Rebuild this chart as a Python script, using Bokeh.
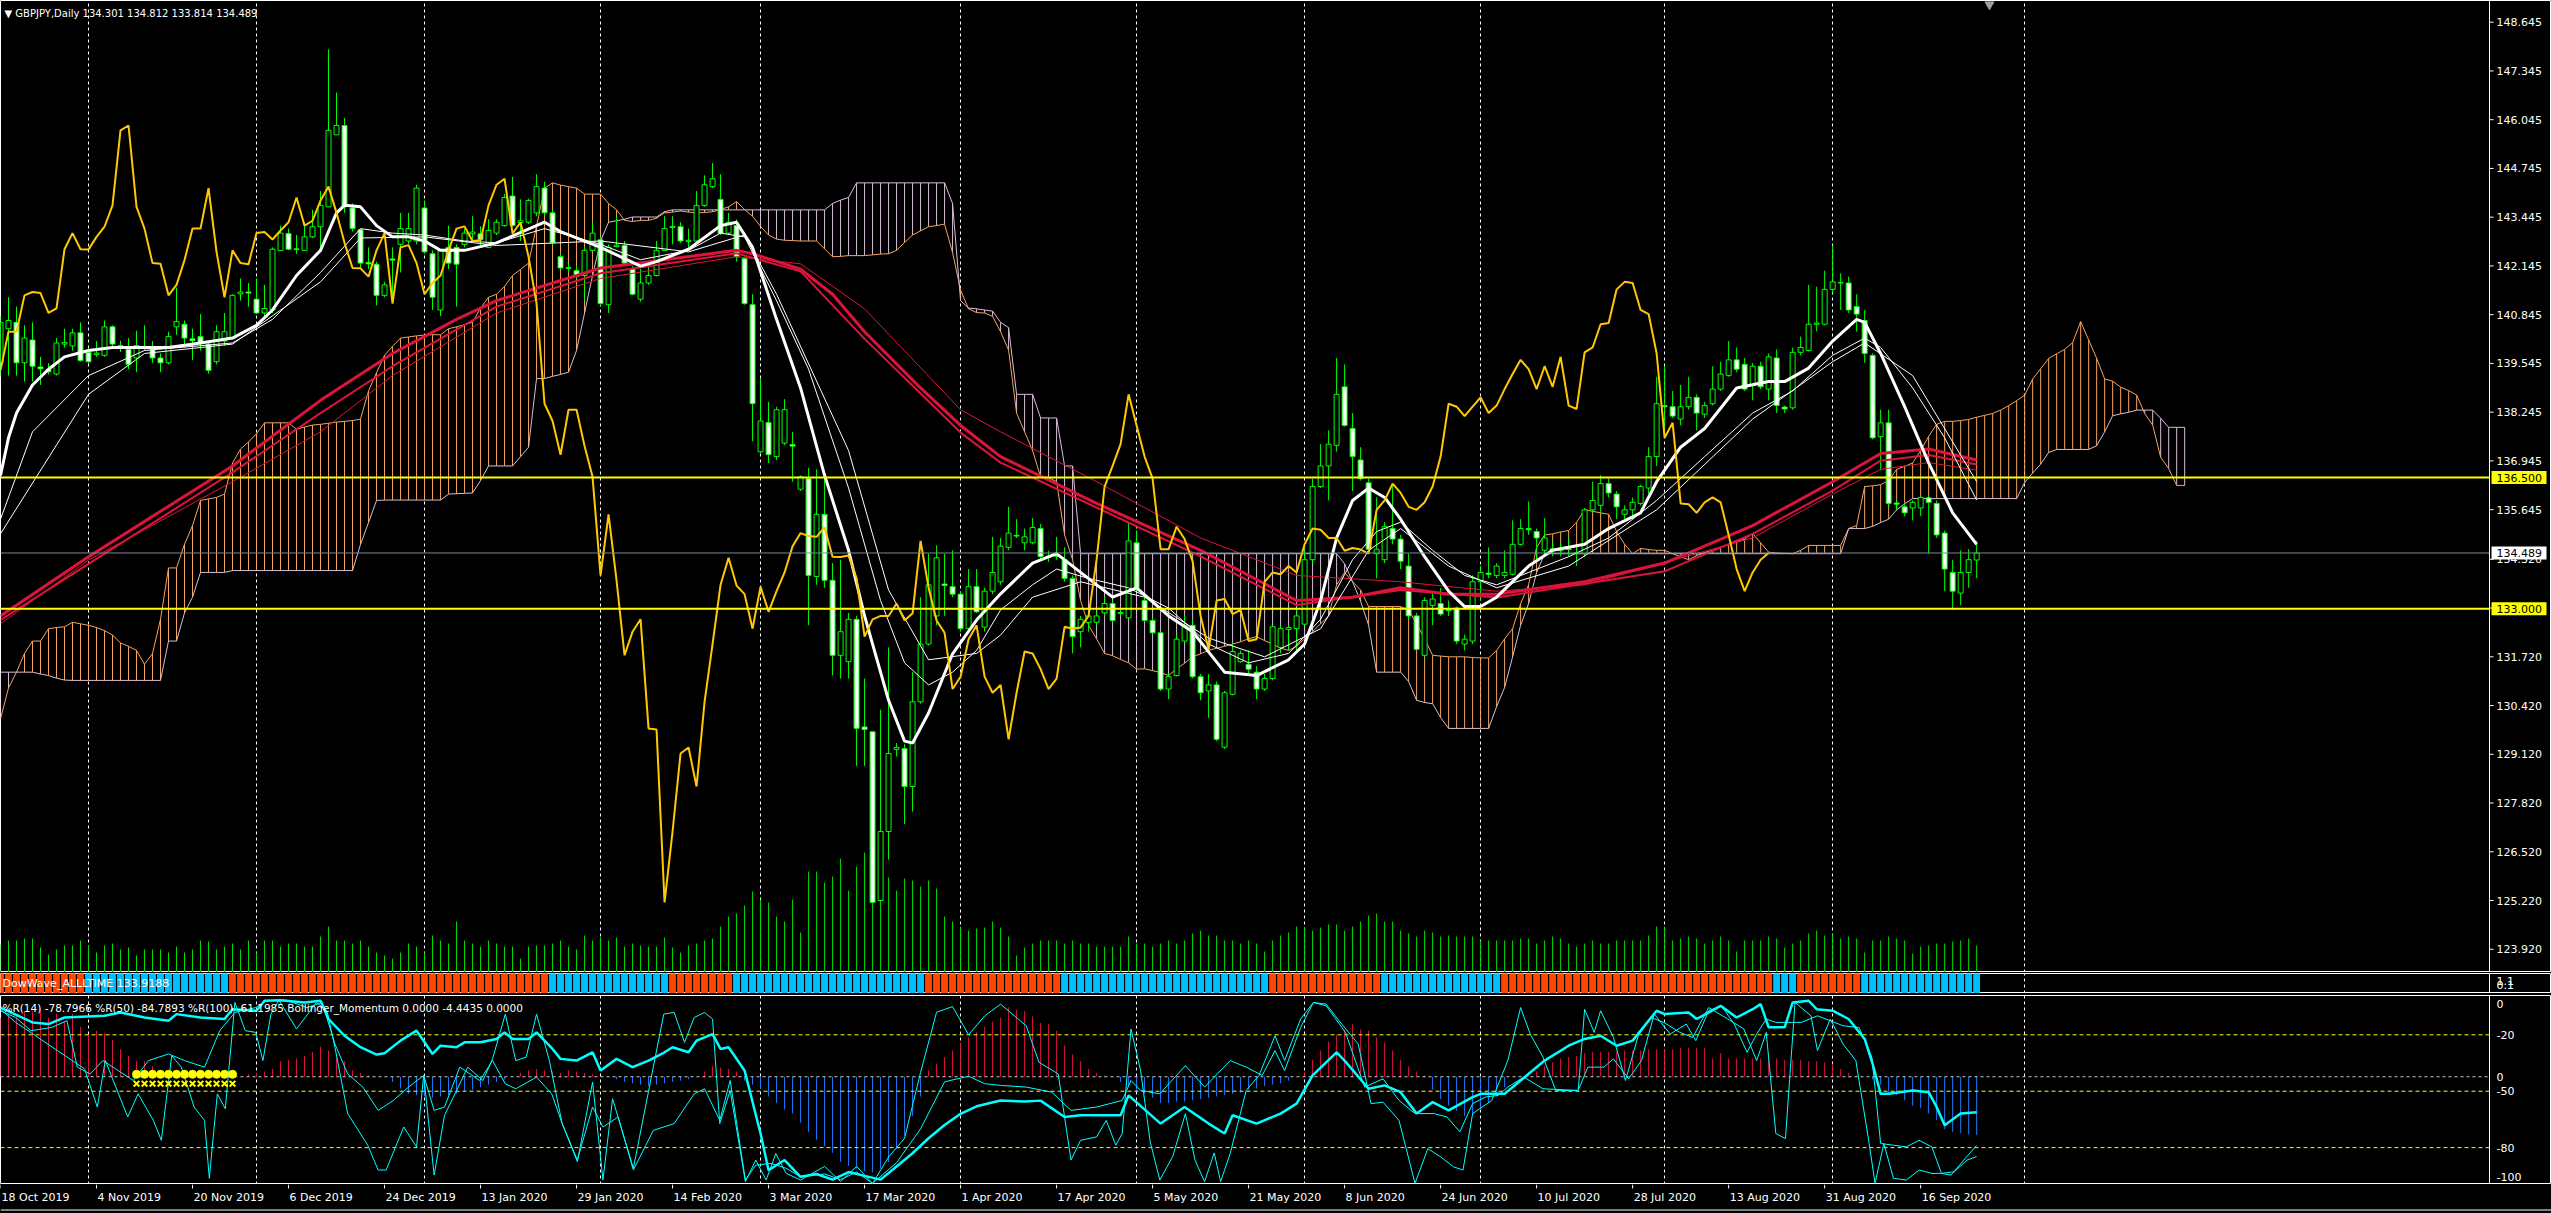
import numpy as np
from bokeh.plotting import figure
from bokeh.models import Range1d, FixedTicker, Label, ColumnDataSource, Span
from bokeh.layouts import column
from bokeh.embed import file_html
from bokeh.resources import INLINE

# ---------------- DATA ----------------
SYMBOL = "GBPJPY,Daily"
# daily bars (open, high, low, close), bar 0 = 18 Oct 2019
OHLC = [
(139.56,140.81,139.22,140.64),(140.47,141.31,139.22,140.69),(140.64,141.06,139.22,139.56),(139.56,140.56,139.06,140.22),
(140.17,140.64,139.06,139.47),(139.45,139.72,138.97,139.40),(139.38,139.55,139.25,139.32),(139.26,140.22,139.22,140.09),
(140.06,140.47,139.97,140.10),(140.01,140.47,139.89,140.36),(140.36,140.64,139.59,139.62),(139.84,139.95,139.55,139.59),
(139.78,140.14,139.72,139.82),(139.76,140.69,139.72,140.52),(140.52,140.56,139.97,140.06),(140.02,140.15,139.85,139.97),
(139.92,140.22,139.39,139.52),(139.69,140.42,139.31,140.02),(139.98,140.56,139.89,140.00),(139.92,140.14,139.56,139.69),
(139.69,139.81,139.31,139.56),(139.56,140.39,139.52,140.26),(140.52,141.56,140.31,140.66),(140.59,140.69,139.97,140.22),
(140.20,140.47,139.64,140.15),(140.26,140.86,139.89,140.09),(140.06,140.14,139.27,139.36),(139.59,140.56,139.52,140.39),
(140.14,140.89,140.02,140.39),(140.22,141.39,140.19,141.36),(141.40,141.81,141.22,141.45),(141.45,141.69,141.06,141.42),
(141.26,141.81,140.86,140.89),(140.89,141.64,140.81,141.01),(140.97,142.64,140.89,142.59),(142.56,143.22,142.56,143.02),
(143.01,143.14,142.56,142.59),(142.60,142.97,142.47,142.58),(142.56,143.31,142.56,142.92),(142.92,143.64,142.89,143.19),
(143.19,144.14,142.64,143.76),(143.72,147.92,143.72,145.76),(145.64,146.77,145.64,145.89),(145.89,146.09,143.56,143.72),
(143.69,143.81,143.06,143.14),(143.11,143.14,142.06,142.22),(142.24,142.64,142.06,142.20),(142.19,142.26,141.09,141.36),
(141.36,141.72,141.31,141.64),(142.33,142.64,141.17,142.30),(142.72,143.56,141.97,143.14),(142.81,143.56,142.72,143.14),
(142.81,144.31,142.72,144.22),(143.69,143.89,142.47,142.52),(142.47,142.56,140.97,141.31),(140.97,142.56,140.81,142.56),
(142.64,143.22,142.06,142.22),(142.64,142.72,141.06,142.19),(142.72,143.14,142.64,143.02),(143.00,143.47,142.81,143.05),
(143.00,143.20,142.70,142.85),(142.64,143.39,142.64,143.09),(143.02,143.39,142.97,143.31),(143.22,144.06,143.19,143.97),
(144.01,144.52,143.19,143.22),(143.30,143.92,142.81,143.35),(143.31,143.94,143.26,143.89),(143.56,144.59,143.47,144.26),
(144.22,144.39,143.47,143.56),(143.56,143.64,142.69,142.76),(142.39,142.47,142.06,142.09),(142.10,142.20,141.98,142.08),
(142.02,142.14,141.81,141.86),(141.89,142.64,141.22,142.56),(142.56,143.31,142.52,143.02),(142.84,142.89,141.06,141.14),
(141.11,142.72,140.89,142.64),(142.66,143.47,142.64,142.70),(142.69,142.81,142.14,142.22),(142.06,142.14,141.36,141.39),
(141.26,142.06,141.19,141.69),(141.69,142.22,141.64,141.89),(141.89,142.81,141.86,142.56),(142.56,143.47,142.56,143.14),
(143.17,143.47,142.72,143.20),(143.19,143.31,142.76,142.81),(142.80,143.14,142.64,142.83),(142.81,144.14,142.72,143.76),
(143.76,144.56,143.72,144.31),(144.26,144.89,144.22,144.47),(143.92,144.59,142.97,143.01),(143.02,143.56,142.97,143.31),
(143.22,143.39,142.26,142.39),(142.34,142.39,141.11,141.14),(141.11,141.39,137.47,138.47),(137.19,139.14,137.14,138.01),
(137.97,138.52,136.89,137.11),(137.06,138.39,136.97,138.31),(137.42,138.59,137.36,138.31),(137.38,137.72,136.39,137.34),
(136.19,136.56,136.14,136.52),(136.47,136.76,132.56,133.89),(133.86,136.72,133.64,135.52),(135.52,136.56,133.56,133.76),
(133.76,134.22,131.22,131.76),(131.76,134.31,131.14,132.39),(131.59,132.89,131.14,132.72),(132.72,132.81,128.81,129.81),
(129.85,131.14,128.81,129.78),(129.72,129.72,125.14,125.17),(125.22,130.31,125.22,127.06),(127.06,131.97,126.31,129.14),
(129.25,129.42,129.06,129.30),(129.27,129.39,127.26,128.26),(128.26,131.31,127.59,130.52),(130.52,133.31,130.47,132.06),
(132.06,134.47,132.02,133.64),(132.81,134.69,132.56,134.36),(133.66,134.47,132.81,133.62),(133.59,134.56,133.31,133.39),
(133.39,133.47,132.39,132.47),(132.47,134.06,132.42,133.59),(133.59,134.06,132.89,132.92),(132.51,133.56,132.39,133.47),
(133.47,134.92,133.39,133.97),(133.72,134.89,133.64,134.67),(134.64,135.72,134.56,135.02),(134.96,135.39,134.89,134.94),
(134.76,135.14,134.56,134.92),(134.76,135.42,134.72,135.17),(135.14,135.26,134.31,134.39),(134.40,134.55,134.25,134.38),
(134.40,134.92,134.31,134.42),(134.31,134.64,133.72,133.81),(133.81,133.89,131.81,132.26),(132.39,132.81,131.97,132.72),
(132.64,132.92,132.39,132.81),(132.64,132.95,132.55,132.81),(132.89,133.30,132.80,133.14),(133.14,133.22,132.64,132.69),
(132.90,133.05,132.80,132.88),(132.76,135.31,132.72,134.81),(134.76,135.09,133.47,133.56),(133.22,133.31,132.64,132.69),
(132.69,132.76,132.31,132.36),(132.36,132.39,130.81,130.86),(130.86,131.26,130.59,131.19),(131.22,132.31,131.19,132.19),
(132.14,132.81,132.09,132.56),(132.56,132.72,131.14,131.19),(131.19,131.26,130.56,130.76),(130.81,131.26,130.09,130.97),
(130.97,131.06,129.47,129.52),(129.31,130.81,129.26,130.76),(130.72,132.09,130.69,131.86),(131.59,131.89,131.56,131.81),
(131.52,131.89,131.22,131.39),(131.31,131.47,130.59,130.86),(130.86,131.26,130.81,131.14),(131.14,132.56,131.09,132.52),
(131.97,132.56,131.81,132.47),(132.45,132.56,131.89,132.50),(132.47,132.97,131.89,132.81),(132.59,134.72,132.56,134.31),
(134.31,136.47,134.22,136.26),(136.26,137.39,136.22,136.81),(136.81,137.76,135.89,137.39),(137.36,139.69,137.19,138.72),
(138.92,139.52,137.86,137.89),(137.81,138.22,136.14,137.06),(136.97,137.31,136.42,136.47),(136.36,136.47,134.47,134.59),
(134.47,135.97,133.81,134.59),(134.31,135.31,134.22,135.19),(135.14,136.31,134.72,134.86),(134.86,134.97,134.06,134.27),
(134.14,134.47,132.72,132.81),(132.81,132.89,131.89,131.92),(131.76,133.31,131.72,133.22),(133.09,133.47,132.56,133.26),
(133.14,133.56,132.81,132.86),(132.95,133.22,132.81,132.97),(133.02,133.06,132.06,132.14),(132.06,132.31,131.89,132.19),
(132.14,133.89,132.06,133.72),(133.72,134.14,133.22,133.97),(133.95,134.64,133.81,133.92),(133.89,134.22,133.81,134.14),
(133.89,134.56,133.81,133.97),(133.92,135.36,133.89,134.72),(134.72,135.39,134.69,135.14),(135.14,135.86,134.97,135.11),
(135.06,135.14,134.31,134.89),(134.56,135.42,134.47,134.89),(134.60,134.80,134.40,134.55),(134.55,134.75,134.40,134.62),
(134.60,134.90,134.40,134.58),(134.50,134.64,134.14,134.47),(134.47,135.69,134.39,135.64),(135.64,136.39,135.56,135.89),
(135.76,136.56,135.56,136.34),(136.34,136.47,135.97,136.09),(136.06,136.14,135.39,135.72),(135.52,135.76,135.39,135.64),
(135.64,135.97,135.39,135.84),(135.81,136.31,135.76,136.26),(136.22,137.31,136.06,137.06),(137.06,139.19,136.81,138.47),
(138.42,139.47,137.56,138.39),(138.39,138.81,138.09,138.14),(138.06,138.97,137.89,138.39),(138.39,139.19,138.31,138.64),
(138.64,138.72,137.76,138.22),(138.19,138.52,138.09,138.42),(138.47,139.47,138.42,138.86),(138.86,139.59,138.81,139.26),
(139.22,140.14,139.19,139.64),(139.64,139.97,139.31,139.39),(139.52,139.69,138.81,138.86),(138.97,139.56,138.56,139.47),
(139.47,139.59,138.86,138.92),(138.86,139.81,138.56,139.72),(139.69,139.92,138.22,138.42),(138.38,138.42,138.22,138.33),
(138.36,139.97,138.31,139.84),(139.84,140.26,139.76,139.97),(139.89,141.64,139.86,140.59),(140.59,141.59,140.40,140.62),
(140.59,142.02,140.56,141.52),(141.52,142.69,141.42,141.72),(141.70,141.95,140.97,141.69),(141.69,141.86,140.89,140.97),
(141.06,141.39,140.39,140.86),(140.69,140.97,139.56,139.81),(139.76,139.81,137.52,137.56),(137.59,138.31,136.69,137.96),
(137.96,138.31,135.72,135.81),(135.82,135.89,135.64,135.79),(135.72,135.81,135.47,135.56),(135.69,135.89,135.36,135.84),
(135.69,136.01,135.47,135.97),(135.96,136.01,134.47,135.84),(135.81,135.89,134.89,134.97),(135.02,135.09,133.47,134.06),
(133.97,134.31,132.97,133.47),(133.42,134.56,133.09,133.97),(133.97,134.59,133.56,134.31),(134.301,134.812,133.814,134.489),
]
# tick volume (thousands)
VOLUME = [28,32,32,34,34,25,18,23,27,27,32,27,20,27,29,23,25,17,23,23,23,20,26,20,23,32,31,23,26,29,23,32,20,32,32,26,29,29,26,26,36,46,32,32,29,32,26,20,17,14,20,29,26,20,37,32,29,51,32,29,26,32,29,
26,26,14,26,27,27,29,32,26,23,37,32,35,32,35,26,29,27,26,26,35,25,20,27,29,32,34,46,56,59,67,81,73,70,56,51,73,40,101,101,90,96,114,82,106,120,111,120,95,82,94,92,86,92,84,56,51,46,42,44,45,51,45,
36,17,25,29,32,32,32,29,32,29,29,26,26,26,26,36,29,29,26,29,32,29,32,39,42,37,37,32,32,29,32,29,21,32,37,40,46,45,42,45,48,48,42,46,51,57,59,51,51,42,39,36,42,40,36,37,36,36,36,32,32,32,
32,32,34,34,29,32,36,34,29,26,29,32,29,29,32,32,32,32,37,46,46,32,34,36,34,29,32,36,32,21,32,32,32,36,34,25,29,32,39,42,37,39,34,36,34,20,32,32,36,34,32,19,26,27,29,29,31,32,34,27]

# Moving averages (bar, value)
WHITE_FAST = [(0,136.56),(1,137.56),(2,138.22),(4,138.97),(6,139.39),(8,139.72),(11,139.89),(14,139.97),(18,139.97),(21,139.97),(25,140.09),(29,140.22),(32,140.56),(34,140.97),(37,141.89),(40,142.56),(42,143.56),(43,143.76),(45,143.72),(47,143.22),(49,142.92),(51,142.92),(53,142.81),(55,142.56),(58,142.56),(62,142.76),(68,143.31),(70,143.06),(75,142.64),(80,142.14),(82,142.26),(86,142.59),(90,143.22),(92,143.31),(94,142.64),(97,140.72),(100,138.89),(103,136.56),(106,134.56),(108,132.81),(111,130.56),(113,129.47),(114,129.42),(116,130.22),(119,131.8),(122,132.7),(125,133.4),(129,134.22),(132,134.47),(135,133.97),(139,133.31),(142,133.56),(146,132.81),(149,132.39),(153,131.31),(157,131.22),(161,131.64),(163,132.06),(165,133.22),(167,134.89),(169,135.89),(171,136.22),(173,135.97),(175,135.39),(178,134.39),(181,133.47),(183,133.06),(185,133.06),(187,133.31),(191,134.14),(194,134.56),(198,134.72),(201,135.14),(205,135.56),(207,136.39),(210,137.31),(213,137.81),(217,138.89),(221,139.06),(223,139.06),(226,139.42),(229,140.14),(232,140.72),(233,140.64),(235,139.81),(238,138.39),(241,136.89),(244,135.56),(247,134.72)]
WHITE_MID = [(0,135.39),(4,137.72),(11,139.22),(18,139.89),(29,140.09),(34,140.72),(40,141.97),(45,143.14),(49,143.02),(53,142.97),(58,142.81),(62,142.76),(68,143.14),(75,142.72),(80,142.31),(86,142.56),(90,143.02),(93,142.92),(97,141.22),(101,139.39),(106,136.22),(110,133.22),(113,131.56),(116,130.97),(119,131.31),(122,131.89),(125,132.97),(129,133.64),(132,134.06),(136,133.81),(141,133.56),(146,133.02),(151,132.06),(156,131.56),(161,131.81),(165,132.72),(169,134.31),(172,135.06),(175,135.31),(179,134.56),(183,133.89),(187,133.64),(191,133.97),(196,134.39),(201,134.89),(207,135.89),(213,137.06),(219,138.22),(224,138.81),(229,139.76),(233,140.22),(235,139.97),(239,138.89),(243,137.56),(247,135.9)]
WHITE_SLOW = [(0,135.0),(11,138.72),(18,139.81),(29,140.06),(40,141.72),(45,142.89),(53,142.92),(62,142.69),(75,142.81),(86,142.52),(93,142.97),(97,141.39),(106,137.22),(111,133.5),(116,131.64),(122,131.81),(125,132.3),(129,133.31),(135,133.72),(143,133.31),(151,132.22),(158,131.72),(165,132.47),(171,134.56),(175,135.14),(181,134.14),(187,133.56),(196,134.14),(207,135.64),(219,138.06),(229,139.59),(233,140.09),(239,139.22),(247,136.39)]
RED_1 = [(0,132.81),(11,134.39),(29,136.81),(40,138.56),(49,139.81),(57,140.72),(62,141.22),(75,142.09),(83,142.31),(92,142.56),(94,142.47),(100,142.06),(104,141.39),(108,140.39),(115,138.89),(120,137.89),(125,137.06),(137,135.81),(150,134.56),(162,133.22),(169,133.31),(175,133.56),(181,133.39),(187,133.39),(198,133.72),(208,134.22),(219,135.22),(229,136.39),(235,137.14),(241,137.26),(247,136.97)]
RED_2 = [(0,132.7),(11,134.2),(29,136.64),(40,138.22),(49,139.47),(62,141.06),(75,141.95),(92,142.48),(100,142.0),(108,140.2),(120,137.7),(125,136.9),(150,134.4),(162,133.1),(175,133.5),(187,133.3),(208,134.0),(219,135.0),(229,136.15),(235,136.95),(241,137.1),(247,136.85)]
RED_3 = [(0,132.6),(11,134.3),(29,136.39),(40,137.72),(49,139.22),(62,140.89),(75,141.81),(92,142.39),(100,142.2),(108,141.0),(120,138.31),(125,137.72),(137,136.39),(150,134.89),(162,133.89),(175,133.72),(187,133.47),(198,133.64),(219,134.89),(229,136.06),(235,136.72),(241,136.9),(247,136.7)]

# Ichimoku cloud (bars 0..273, 26 bars projected ahead)
SPAN_A = [130.06,130.89,131.31,131.81,132.14,132.14,132.47,132.50,132.52,132.64,
132.60,132.56,132.50,132.42,132.30,132.09,132.00,131.89,131.52,131.81,
132.72,134.09,134.09,134.72,135.22,135.89,135.93,135.97,136.06,136.89,
137.26,137.45,137.67,137.96,137.96,137.96,137.96,137.79,137.85,137.90,
137.92,137.95,137.98,138.00,138.02,138.06,138.81,139.30,139.76,140.00,
140.22,140.25,140.28,140.30,140.31,140.31,140.47,140.52,140.58,140.64,
141.02,141.31,141.39,141.60,141.89,142.05,142.22,143.20,144.22,144.36,
144.30,144.26,144.22,144.06,144.06,144.06,143.81,143.64,143.36,143.33,
143.36,143.36,143.42,143.56,143.58,143.61,143.58,143.56,143.57,143.59,
143.65,143.72,143.86,143.65,143.47,143.20,142.97,142.86,142.83,142.82,
142.81,142.81,142.81,142.60,142.39,142.40,142.42,142.42,142.42,142.44,
142.46,142.47,142.56,142.77,142.97,143.08,143.19,143.22,143.26,142.50,
141.50,141.00,140.90,140.89,140.80,140.39,139.90,138.22,137.72,137.22,
136.52,136.50,136.39,134.97,134.31,133.22,132.56,132.20,131.81,131.75,
131.65,131.56,131.39,131.40,131.35,131.30,131.22,131.40,131.55,131.72,
131.80,131.89,131.95,132.00,132.06,132.12,132.20,132.26,132.15,132.06,
131.95,131.89,132.00,132.20,132.39,132.60,132.81,133.64,133.97,133.72,
133.50,133.06,133.06,133.06,133.06,133.06,132.97,132.60,132.20,131.76,
131.74,131.72,131.72,131.72,131.70,131.69,131.69,131.89,132.20,132.47,
133.14,133.64,134.64,134.97,135.00,135.05,135.09,135.31,135.64,135.60,
135.56,135.52,135.06,134.72,134.47,134.61,134.58,134.56,134.56,134.47,
134.39,134.31,134.42,134.50,134.56,134.64,134.72,134.80,134.86,135.01,
134.76,134.51,134.49,134.48,134.47,134.56,134.69,134.69,134.69,134.69,
134.69,135.14,135.22,136.26,136.28,136.31,136.42,136.72,136.80,136.89,
137.22,137.60,137.92,138.00,138.00,138.02,138.05,138.11,
138.16,138.21,138.30,138.42,138.55,138.70,139.13,139.40,139.68,139.80,
139.92,140.10,140.66,140.17,139.68,139.13,139.07,138.91,138.82,138.70,
138.21,137.90,137.04,136.74,136.29,136.29]
SPAN_B = [131.31,131.31,131.31,131.31,131.31,131.26,131.22,131.15,131.10,131.09] + [131.09]*10 + \
[131.09,132.14,132.14,132.89,133.31,133.97,133.97,133.97,133.97,134.02] + [134.02]*15 + \
[134.72,135.30,135.89,135.90,135.90] + [135.90]*6 + [136.06,136.07,136.08,136.09] + \
[136.42,136.81,136.81,136.81,136.81,137.06,137.31,139.14,139.14,139.20] + \
[139.25,139.31,139.89,140.89,141.89,142.81,143.31,143.35,143.39,143.45] + \
[143.45,143.45,143.45,143.59] + [143.64]*20 + [143.81,143.90,143.97] + [144.36]*12 + [143.81] + \
[141.22,141.02,141.00,140.97,140.94,140.64,140.50,138.72,138.72,138.72] + \
[138.09,138.09,138.09,136.81,136.81] + [134.47]*33 + [134.20,133.72] + \
[133.20,132.56,131.31,131.31,131.31,131.31,131.06,130.56,130.50,130.47] + \
[130.10] + [129.81]*6 + [130.39,130.90,131.72] + [132.56,133.14,133.97] + [134.47]*38 + \
[135.14,135.14,135.14,135.20,135.30,135.39,135.64,135.80,135.94] + [135.94]*8 + \
[135.94,135.94,135.94,135.94,135.94,136.37,136.62,136.86,137.17,137.25,137.25,137.25,137.25,
 137.25,137.35,137.72,138.15,138.20,138.24,138.30,138.30,138.30,138.08,137.84,137.84,137.84]

# DowWave state runs (first bar, last bar, 1 = down / 0 = up)
DW_RUNS = [(0,10,1),(11,28,0),(29,68,1),(69,83,0),(84,91,1),(92,115,0),(116,132,1),(133,158,0),
           (159,172,1),(173,187,0),(188,221,1),(222,224,0),(225,232,1),(233,247,0)]

# Williams %R lines (bar, value)
WPR_100 = [(0,-5.5),(4,-13.4),(6,-14.3),(8,-10.8),(13,-9.9),(15,-8.1),(18,-10.8),(21,-12.5),(22,-9),(25,-10.8),(28,-11.6),(29,-6.4),(32,-7.2),(33,-1.9),(35,-1.6),(38,-2.8),(40,-1.9),(41,-11.6),(43,-20.5),(45,-26.6),(47,-30.5),(48,-29.8),(50,-23.1),(52,-17.8),(53,-24),(54,-30.2),(55,-25.8),(57,-26.6),(58,-24),(60,-24),(62,-22.2),(63,-18.7),(64,-22.2),(66,-22.2),(67,-18.7),(69,-27.5),(70,-32.8),(72,-33.7),(74,-29.3),(75,-39),(77,-32.8),(79,-37.2),(81,-33.7),(83,-29.3),(84,-26.6),(86,-29.3),(87,-23.1),(89,-19.6),(90,-27.5),(91,-26.6),(93,-39),(95,-72.5),(96,-92),(98,-86.6),(100,-95.5),(102,-94),(104,-97),(106,-93),(108,-95),(110,-97),(112,-90),(114,-83),(116,-75),(118,-68),(120,-62),(122,-58),(125,-54.9),(128,-55.5),(130,-55),(133,-63.7),(135,-62.8),(138,-62.8),(140,-62.8),(141,-52.2),(145,-67.2),(148,-58.4),(151,-67.2),(153,-72.5),(154,-62.8),(157,-67.2),(160,-61.9),(162,-56.6),(164,-41.6),(167,-29.3),(168,-33.7),(171,-48.7),(173,-46.9),(175,-50.5),(177,-61.9),(179,-55.8),(181,-60.2),(184,-53.1),(185,-51.4),(188,-51.4),(190,-44.3),(193,-33.7),(196,-25.8),(198,-22.2),(200,-20.5),(202,-25.8),(204,-23.1),(207,-7.2),(208,-9),(211,-8.1),(212,-11.6),(215,-4.6),(217,-10.8),(219,-6.4),(220,-3.7),(221,-16),(223,-16),(224,-2.8),(226,-1.9),(227,-6.4),(229,-7.2),(231,-11.6),(233,-22.2),(234,-35.5),(235,-51.4),(236,-51.4),(239,-49.6),(241,-50.5),(242,-58.4),(243,-68.1),(245,-61.9),(247,-61.2)]
WPR_14 = [(0,-6.4),(1.9,-13.4),(10.5,-38.1),(12.1,-58.4),(13.1,-33.7),(15.9,-63.7),(17.2,-51.4),(19.1,-65.5),(20.1,-76.1),(21.4,-31.1),(22.6,-37.2),(24.2,-58.4),(25.5,-65.5),(26.1,-96.3),(27.1,-51.4),(28.1,-59.3),(29.3,-2.8),(30.6,-17.8),(31.9,-18.7),(32.8,-33.7),(33.8,-9),(34.8,-1.6),(37,-16.9),(39.5,-2.8),(40.8,-7.2),(41.8,-26.6),(43.4,-61.9),(45.9,-78.7),(47.2,-91.9),(48.2,-91.9),(50.4,-69),(52,-79.6),(52.9,-41.6),(54.2,-94.6),(55.5,-62.8),(56.8,-51.4),(58.4,-37.2),(60.3,-44.3),(61.5,-32.8),(63.1,-9),(64.4,-33.7),(65.7,-31.9),(67,-9),(68.6,-33.7),(70.2,-67.2),(72.1,-87.5),(74,-45.2),(75.3,-97.2),(76.5,-54),(79.1,-91),(82.9,-9),(84.2,-8.1),(85.5,-24),(86.7,-10.8),(88,-8.1),(89,-11.6),(89.9,-67.2),(91.2,-49.6),(93.1,-98.1),(94.4,-86.6),(95.7,-97.2),(96.9,-83.1),(98.2,-93.7),(100,-97.2),(103,-90),(105,-98),(107,-90),(109,-99),(111,-85),(113,-75),(115,-40),(117,-8),(119,-5),(121,-20),(123,-10),(125,-3.7),(128.2,-15.2),(129.8,-34.6),(132.2,-40.8),(133.8,-86.6),(135,-76.1),(137,-74.3),(138.2,-65.5),(139.4,-78.7),(140.2,-72.5),(141.3,-16.9),(142.5,-39),(143.7,-76.9),(144.9,-97.2),(146.5,-84.9),(148.1,-61.9),(149.3,-86.6),(150.5,-98.1),(151.7,-82.8),(152.5,-98.1),(153.7,-83.1),(155.7,-49.6),(157.3,-41.6),(159.3,-20.5),(160.5,-33.7),(162.5,-11.6),(164.1,-2.8),(165.7,-3.7),(167.3,-12.5),(169.7,-24.9),(171.3,-56.6),(172.8,-55.8),(174.8,-65.5),(176.8,-99),(178.4,-80.5),(180,-84.9),(181.6,-90.2),(182.8,-91.9),(184,-61.9),(186.4,-54.9),(188.4,-33.7),(190,-5.5),(191.2,-19.6),(192.8,-31.9),(194.4,-49.6),(197.2,-49.6),(198,-6.4),(199.2,-18.7),(200,-7.2),(201.6,-21.4),(203.1,-44.3),(204.7,-20.5),(206.3,-10.8),(207.9,-13.4),(209.9,-18.7),(211.5,-21.4),(213.5,-5.5),(215.9,-11.6),(217.9,-16.9),(219.5,-33.7),(220.7,-18.7),(221.9,-72.5),(223.1,-75.2),(224.3,-2.8),(226.3,-9.9),(227.1,-28.4),(228.7,-11.6),(230.3,-24.9),(231.9,-33.7),(233.5,-76.1),(234.3,-99),(235.4,-77.8),(236.6,-96.3),(238.2,-97.2),(239.8,-91.9),(241.4,-93.7),(242.6,-93.7),(243.8,-94.6),(245.4,-86.6),(247,-78.8)]
WPR_50 = [(0,-7.2),(1.9,-10.8),(3.8,-17.8),(6.4,-16.1),(8.3,-12.5),(9.6,-37.2),(11.2,-40.8),(12.8,-33.7),(14.7,-39),(16.6,-44.3),(18.5,-33.7),(21,-30.2),(23,-33.7),(25.5,-37.2),(27.4,-17.8),(29.3,-8.1),(31.9,-5.5),(33.2,-1.9),(35.7,-1.6),(38.3,-5.5),(40.2,-2.8),(41.8,-24.9),(43.4,-40.8),(45.3,-47.8),(47.2,-60.2),(49.1,-54.9),(51,-47.8),(52.9,-41.6),(54.2,-60.2),(55.5,-58.4),(57.4,-37.2),(59.9,-44.3),(61.5,-33.7),(63.1,-46.1),(64.4,-48.7),(67,-42.5),(68.9,-51.4),(70.2,-67.2),(72.1,-86.6),(74,-58.4),(75.3,-69),(77.2,-63.7),(79.1,-91.9),(81.6,-70.8),(84.2,-67.2),(86.7,-51.4),(88,-48.7),(89.9,-65.5),(91.2,-44.3),(93.1,-97.2),(94.4,-89.3),(96.3,-88.4),(98.2,-91),(100,-95.5),(103,-94),(105,-97),(107,-93),(109,-99),(112,-88),(115,-70),(118,-45),(121,-42),(123,-46),(125,-46.9),(128.2,-47.8),(131.4,-50.5),(133.8,-60.2),(137,-58.4),(140.2,-54.9),(141.3,-44.3),(142.5,-49.6),(144.9,-51.4),(148.1,-36.4),(150.5,-47.8),(153.7,-33.7),(155.7,-37.2),(157.7,-41.6),(159.3,-28.4),(160.5,-39),(162.5,-16.1),(164.1,-2.8),(165.7,-4.6),(168.1,-18.7),(170.5,-47.8),(172.8,-43.4),(174.8,-54.9),(176.8,-61.9),(179.2,-61.9),(180.8,-63.7),(182.4,-71.6),(184,-56.6),(185.6,-53.1),(187.2,-52.2),(188.4,-47.8),(190.4,-42.5),(192.8,-48.7),(197.2,-49.6),(198.4,-37.2),(200.4,-37.2),(201.6,-32.8),(203.5,-43.4),(205.1,-33.7),(206.7,-9),(208.7,-19.6),(210.7,-14.3),(211.9,-23.1),(213.5,-7.2),(215.1,-4.6),(216.7,-14.3),(218.3,-29.3),(219.5,-19.6),(220.7,-11.6),(221.9,-13.4),(223.9,-13.4),(225.1,-13.4),(227.1,-9.9),(228.7,-12.5),(230.3,-15.2),(232.3,-16.1),(233.9,-31.9),(235,-77.8),(236.6,-78.7),(238.2,-79.6),(239.8,-76.1),(241.4,-79.6),(242.6,-93.7),(244.2,-92.8),(245.8,-86.6),(247,-84.8)]

# Bollinger momentum histogram (one value per bar)
MOMENTUM = [4.5,4.8,4.8,5.0,5.0,5.2,4.5,4.8,4.2,4.8,3.8,
3.2,3.5,3.3,2.8,2.1,1.6,1.2,1.2,
0.8,0.5,0.3,0.2,0.1,0,0,0,0,0,0,0,0.2,0.3,
0.4,0.6,1.2,1.3,1.4,1.6,1.9,2.3,2.0,1.5,1.2,0.5,0.3,0.1,0,
0,
-0.4,-0.9,-1.3,-1.4,-1.5,-1.6,-1.5,-1.4,-1.3,-1.1,-1.0,-0.8,-0.6,-0.4,-0.2,
0,
0.3,0.5,0.6,0.5,0.4,0.3,0.5,0.4,0.3,0.2,
0,0,
-0.2,-0.4,-0.5,-0.6,-0.7,-0.6,-0.5,-0.4,-0.3,-0.2,
0,
0.4,0.8,0.7,0.6,0.4,
-0.3,-0.6,
-0.9,-1.5,-2.0,-2.5,-2.8,-3.5,
-4.2,-4.8,-5.3,-5.8,-6.5,-6.8,-7.0,-7.2,-7.3,-7.0,-6.5,-5.5,-4.5,-3.0,-1.5,
0.5,1.0,1.5,2.0,2.6,3.0,3.4,3.8,4.2,
4.5,5.3,5.1,5.0,4.6,4.1,4.0,3.5,2.4,1.7,1.2,0.6,0.3,0.1,
0,
-0.4,-0.7,-1.1,-1.3,-1.6,-2.0,-2.0,-1.9,-1.9,-1.8,-1.7,-1.6,-1.5,-1.4,-1.3,-1.2,-1.0,-0.9,-0.7,-0.6,-0.5,-0.3,
0,0.4,
1.3,2.0,2.7,3.2,3.6,4.0,3.6,3.5,3.0,2.6,2.0,1.3,0.8,0.4,0.1,
-1.0,-1.7,-2.2,-2.6,-3.0,-2.9,-2.5,-2.0,-1.5,-0.8,
0,0,
0.2,0.4,0.8,1.1,1.4,1.5,1.6,1.8,1.9,1.9,1.9,1.9,2.0,2.0,2.0,2.1,2.1,2.1,2.1,2.2,2.2,2.2,2.2,1.4,1.8,1.4,1.4,1.4,1.4,1.4,1.4,1.4,1.3,1.3,1.3,1.2,1.2,1.1,1.0,0.6,0.3,
0.1,0,-0.2,
-0.6,-1.3,-1.4,-1.8,-2.2,-2.4,-2.8,-3.3,-4.0,-4.2,-4.3,-4.4,-4.44]

# squeeze signal dots (bars)
SQUEEZE_BARS = [17,18,19,20,21,22,23,24,25,26,27,28,29]

LEVELS = [136.5, 133.0]
BID = 134.489
PRICE_TICKS = [148.645,147.345,146.045,144.745,143.445,142.145,140.845,139.545,138.245,136.945,
               135.645,134.320,133.020,131.720,130.420,129.120,127.820,126.520,125.220,123.920]
DATE_TICK_BARS = list(range(0, 241, 12))
DATE_LABELS = ["18 Oct 2019","4 Nov 2019","20 Nov 2019","6 Dec 2019","24 Dec 2019","13 Jan 2020",
               "29 Jan 2020","14 Feb 2020","3 Mar 2020","17 Mar 2020","1 Apr 2020","17 Apr 2020",
               "5 May 2020","21 May 2020","8 Jun 2020","24 Jun 2020","10 Jul 2020","28 Jul 2020",
               "13 Aug 2020","31 Aug 2020","16 Sep 2020"]
GRID_BARS = [11, 32, 53, 75, 95, 120, 142, 163, 185, 208, 229, 253]
WPR_LEVELS = [-20, -50, -80]
MOM_ZERO_ON_WPR = -42.3
WPR_AXIS_LABELS = ["0", "-20", "0", "-50", "-80", "-100"]
HEADER = "\u25bc " + SYMBOL + "  134.301 134.812 133.814 134.489"
SUB_HEADER = "%R(14) -78.7966  %R(50) -84.7893  %R(100) -61.1985  Bollinger_Momentum 0.0000 -4.4435 0.0000"
DW_HEADER = "DowWave_ALLLTIME 133.9188"

# ---------------- LAYOUT / STYLE ----------------
FONT = "DejaVu Sans"
TOTAL_W = 2551
PLOT_W = 2489                       # width of the chart area, the rest is the price scale
X_EDGE = 311.1                      # bars visible in the chart area
PPB = PLOT_W / X_EDGE               # pixels per bar
X_END = TOTAL_W / PPB
H_MAIN, H_DW, H_WPR, H_DATE = 972, 20, 189, 27
Y_MAIN = (123.30, 149.224)
Y_WPR = (-99.6, 0.9)
LIME = "#00FF00"
SANDY = "#F4A460"
THISTLE = "#D8BFD8"
GOLD = "#FFC800"
CRIMSON = "#DC143C"
CYAN = "#00FFFF"

O = np.array([r[0] for r in OHLC]); H = np.array([r[1] for r in OHLC])
L = np.array([r[2] for r in OHLC]); C = np.array([r[3] for r in OHLC])
N = len(OHLC)
idx = np.arange(N)

xr = Range1d(0, X_END)


def make_fig(h, yr, top_border=0, grid=True):
    f = figure(output_backend="svg", toolbar_location=None, frame_width=TOTAL_W, frame_height=h,
               x_range=xr, y_range=Range1d(*yr), min_border_left=0, min_border_right=0,
               min_border_top=top_border, min_border_bottom=0)
    f.xaxis.visible = False
    f.yaxis.visible = False
    f.background_fill_color = "black"
    f.border_fill_color = "black"
    f.outline_line_color = "white"
    f.ygrid.visible = False
    if grid:
        f.xgrid.ticker = FixedTicker(ticks=GRID_BARS)
        f.xgrid.grid_line_color = "white"
        f.xgrid.grid_line_dash = "3 3"
    else:
        f.xgrid.visible = False
    return f


def scale_labels(f, vals, texts, text_y=None, ticks=True):
    ys = list(vals) if text_y is None else list(text_y)
    if ticks:
        f.segment(x0=[X_EDGE] * len(vals), x1=[X_EDGE + 4 / PPB] * len(vals), y0=list(vals), y1=list(vals),
                  color="white", line_width=1)
    f.text(x=[X_EDGE + 7 / PPB] * len(ys), y=ys, text=list(texts), text_color="white",
           text_font={"value": FONT}, text_font_size="11px", text_baseline="middle", text_align="left")


def pline(fig, pairs, **kw):
    fig.line([a for a, _ in pairs], [b for _, b in pairs], **kw)


# ---------- main price panel ----------
p = make_fig(H_MAIN, Y_MAIN)
ppu = H_MAIN / (Y_MAIN[1] - Y_MAIN[0])

# Ichimoku cloud
cx = np.arange(len(SPAN_A))
A = np.array(SPAN_A); B = np.array(SPAN_B)
hcol = [SANDY if a >= b else THISTLE for a, b in zip(A, B)]
p.segment(x0=cx, y0=A, x1=cx, y1=B, color=hcol, line_width=1)
p.line(cx, A, color=SANDY, line_width=1)
p.line(cx, B, color=THISTLE, line_width=1)

# volumes
p.extra_y_ranges = {"vol": Range1d(0, H_MAIN)}
p.segment(x0=idx, y0=0, x1=idx, y1=VOLUME, y_range_name="vol", color="#00DD00", line_width=1)

# candles
src = ColumnDataSource(dict(x=idx, hi=H, lo=L, top=np.maximum(O, C), bot=np.minimum(O, C),
                            fill=["black" if c >= o else "white" for o, c in zip(O, C)]))
p.segment(x0="x", y0="hi", x1="x", y1="lo", source=src, color=LIME, line_width=1)
p.vbar(x="x", top="top", bottom="bot", width=0.62, source=src, fill_color="fill",
       line_color=LIME, line_width=1)

pline(p, RED_3, color=CRIMSON, line_width=1)
pline(p, RED_2, color=CRIMSON, line_width=2)
pline(p, RED_1, color=CRIMSON, line_width=3)
pline(p, WHITE_SLOW, color="white", line_width=1)
pline(p, WHITE_MID, color="white", line_width=1)
pline(p, WHITE_FAST, color="white", line_width=3)

# chikou span (close shifted back 26 bars)
p.line(idx[26:] - 26, C[26:], color=GOLD, line_width=2)

# horizontal levels
p.line([0, X_EDGE], [BID, BID], color="#778899", line_width=1)
for lv in LEVELS:
    p.line([0, X_EDGE], [lv, lv], color="#FFFF00", line_width=2)

# price scale
p.add_layout(Span(location=X_EDGE, dimension="height", line_color="white", line_width=1))
scale_labels(p, PRICE_TICKS, [f"{t:.3f}" for t in PRICE_TICKS])

# price tags
tags = [(LEVELS[0], "#FFFF00"), (BID, "white"), (LEVELS[1], "#FFFF00")]
tv = [t[0] for t in tags]
p.quad(left=X_EDGE + 2 / PPB, right=X_EDGE + 57 / PPB, bottom=[v - 6.5 / ppu for v in tv],
       top=[v + 6.5 / ppu for v in tv], fill_color=[t[1] for t in tags], line_color=None)
p.text(x=[X_EDGE + 7 / PPB] * 3, y=tv, text=[f"{v:.3f}" for v in tv], text_color="black",
       text_font={"value": FONT}, text_font_size="11px", text_baseline="middle")

p.add_layout(Label(x=4, x_units="screen", y=H_MAIN - 18, y_units="screen", text=HEADER,
                   text_color="white", text_font=FONT, text_font_size="10px"))
p.scatter([248.6], [Y_MAIN[1] - 4 / ppu], marker="inverted_triangle", size=9, color="#A0A0A0")

# ---------- DowWave strip ----------
q = make_fig(H_DW, (0, 1), top_border=1)
dwx, dwc = [], []
for s, e, st in DW_RUNS:
    for i in range(s, e + 1):
        dwx.append(i); dwc.append("#FF4500" if st == 1 else "#00BFFF")
q.vbar(x=dwx, top=1, bottom=0, width=0.72, color=dwc)
q.add_layout(Span(location=X_EDGE, dimension="height", line_color="white", line_width=1))
q.text(x=[2 / PPB], y=[0.5], text=[DW_HEADER], text_color="white", text_font={"value": FONT},
       text_font_size="11px", text_baseline="middle")
scale_labels(q, [0.62, 0.45], ["1.1", "0.1"], ticks=False)

# ---------- %R / momentum panel ----------
r = make_fig(H_WPR, Y_WPR, top_border=2)
k = 6.97
r.extra_y_ranges = {"mom": Range1d((Y_WPR[0] - MOM_ZERO_ON_WPR) / k, (Y_WPR[1] - MOM_ZERO_ON_WPR) / k)}
mcol = [CRIMSON if m > 0 else "#1E78FF" for m in MOMENTUM]
r.segment(x0=idx, y0=0, x1=idx, y1=MOMENTUM, y_range_name="mom", color=mcol, line_width=1)
for lv in WPR_LEVELS:
    r.line([0, X_EDGE], [lv, lv], color="#FFFF00", line_width=1, line_dash="4 3")
r.line([0, X_EDGE], [MOM_ZERO_ON_WPR, MOM_ZERO_ON_WPR], color="#C8C8C8", line_width=1, line_dash="3 3")

pline(r, WPR_14, color=CYAN, line_width=1)
pline(r, WPR_50, color=CYAN, line_width=1)
pline(r, WPR_100, color=CYAN, line_width=2.5)

r.scatter(SQUEEZE_BARS, [-41] * len(SQUEEZE_BARS), marker="circle", size=8, color="#FFFF00")
r.scatter(SQUEEZE_BARS, [-46] * len(SQUEEZE_BARS), marker="x", size=8, color="#FFFF00", line_width=2)

r.text(x=[2 / PPB], y=[-2.5], text=[SUB_HEADER], text_color="white", text_font={"value": FONT},
       text_font_size="10.5px", text_baseline="top")
r.add_layout(Span(location=X_EDGE, dimension="height", line_color="white", line_width=1))
wpr_ticks = [0, -20, MOM_ZERO_ON_WPR, -50, -80, -100]
scale_labels(r, wpr_ticks, WPR_AXIS_LABELS, text_y=[-3.5, -20, MOM_ZERO_ON_WPR, -50, -80, -95.5], ticks=False)

# ---------- date scale ----------
d = make_fig(H_DATE, (0, 1), grid=False)
d.outline_line_color = None
d.segment(x0=DATE_TICK_BARS, x1=DATE_TICK_BARS, y0=[1] * len(DATE_TICK_BARS),
          y1=[1 - 4 / H_DATE] * len(DATE_TICK_BARS), color="white", line_width=1)
d.text(x=[b + 1 / PPB for b in DATE_TICK_BARS], y=[1 - 13 / H_DATE] * len(DATE_TICK_BARS), text=DATE_LABELS,
       text_color="white", text_font={"value": FONT}, text_font_size="11px", text_baseline="middle",
       text_align="left")
d.line([0, X_END], [1 - 25.5 / H_DATE] * 2, color="white", line_width=1)

layout = column(p, q, r, d, spacing=0)
html = file_html(layout, INLINE, title="GBPJPY Daily")
html = html.replace("<body>", "<body style=\"background-color:black;\">")
open("out.html", "w").write(html)
